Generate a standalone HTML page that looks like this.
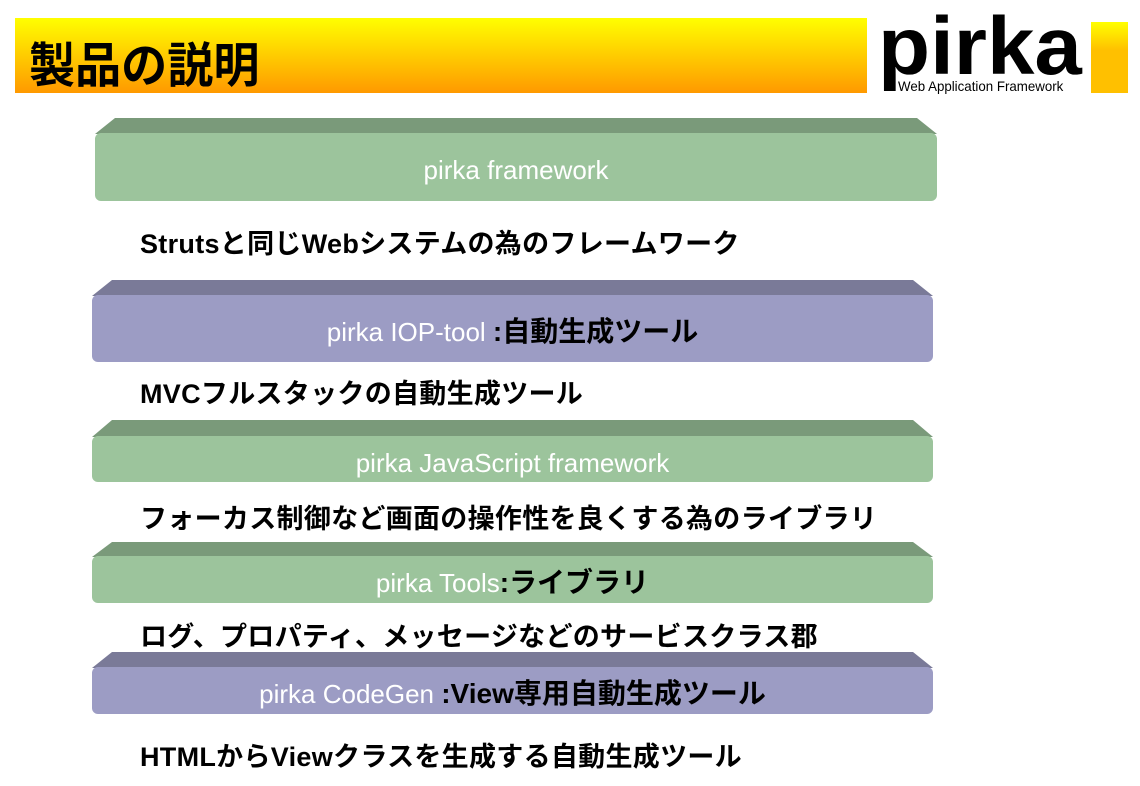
<!DOCTYPE html>
<html><head><meta charset="utf-8"><style>
body{margin:0;width:1140px;height:786px;background:#fff;position:relative;overflow:hidden;font-family:"Liberation Sans","Noto Sans CJK JP",sans-serif}
.abs{position:absolute}
.hdr{left:15px;top:18px;width:852px;height:75px;background:linear-gradient(#ffff00,#ff9900)}
.hdr span{position:absolute;left:14px;top:8px;font-size:48px;font-weight:bold;color:#000;font-family:"Noto Sans CJK JP",sans-serif;transform:scaleX(0.96);transform-origin:left}
.bar{left:1091px;top:22px;width:37px;height:71px;background:linear-gradient(#ffff00,#ffc000 40%,#ffc000)}
.logo{left:878px;top:6px;font-size:82px;font-weight:bold;line-height:1;transform:scaleX(1.04);transform-origin:left}
.sub{left:898px;top:78px;font-size:14px;transform:scaleX(0.95);transform-origin:left}
.top{clip-path:polygon(20px 0,calc(100% - 20px) 0,100% 100%,0 100%)}
.face{border-radius:6px;color:#fff;font-size:26px;text-align:center;white-space:nowrap}
.g .top{background:#7a9a7a}.g .face{background:#9cc49c}
.p .top{background:#7a7a98}.p .face{background:#9c9cc4}
.desc{left:140px;font-size:27px;font-weight:bold;color:#000;white-space:nowrap;letter-spacing:0.3px}
b{font-weight:bold;color:#000;font-size:28px}
</style></head><body>
<div class="abs hdr"><span>製品の説明</span></div>
<div class="abs logo">pirka</div>
<div class="abs sub">Web Application Framework</div>
<div class="abs bar"></div>

<div class="g">
<div class="abs top" style="left:95px;top:118px;width:842px;height:16px"></div>
<div class="abs face" style="left:95px;top:133px;width:842px;height:68px;line-height:74px">pirka framework</div></div>
<div class="abs desc" style="top:222px">Strutsと同じWebシステムの為のフレームワーク</div>

<div class="p">
<div class="abs top" style="left:92px;top:280px;width:841px;height:16px"></div>
<div class="abs face" style="left:92px;top:295px;width:841px;height:67px;line-height:74px">pirka IOP-tool <b>:自動生成ツール</b></div></div>
<div class="abs desc" style="top:372px">MVCフルスタックの自動生成ツール</div>

<div class="g">
<div class="abs top" style="left:92px;top:420px;width:841px;height:17px"></div>
<div class="abs face" style="left:92px;top:436px;width:841px;height:46px;line-height:54px">pirka JavaScript framework</div></div>
<div class="abs desc" style="top:497px">フォーカス制御など画面の操作性を良くする為のライブラリ</div>

<div class="g">
<div class="abs top" style="left:92px;top:542px;width:841px;height:15px"></div>
<div class="abs face" style="left:92px;top:556px;width:841px;height:47px;line-height:54px">pirka Tools<b>:ライブラリ</b></div></div>
<div class="abs desc" style="top:615px">ログ、プロパティ、メッセージなどのサービスクラス郡</div>

<div class="p">
<div class="abs top" style="left:92px;top:652px;width:841px;height:16px"></div>
<div class="abs face" style="left:92px;top:667px;width:841px;height:47px;line-height:54px">pirka CodeGen <b>:View専用自動生成ツール</b></div></div>
<div class="abs desc" style="top:735px">HTMLからViewクラスを生成する自動生成ツール</div>
</body></html>
